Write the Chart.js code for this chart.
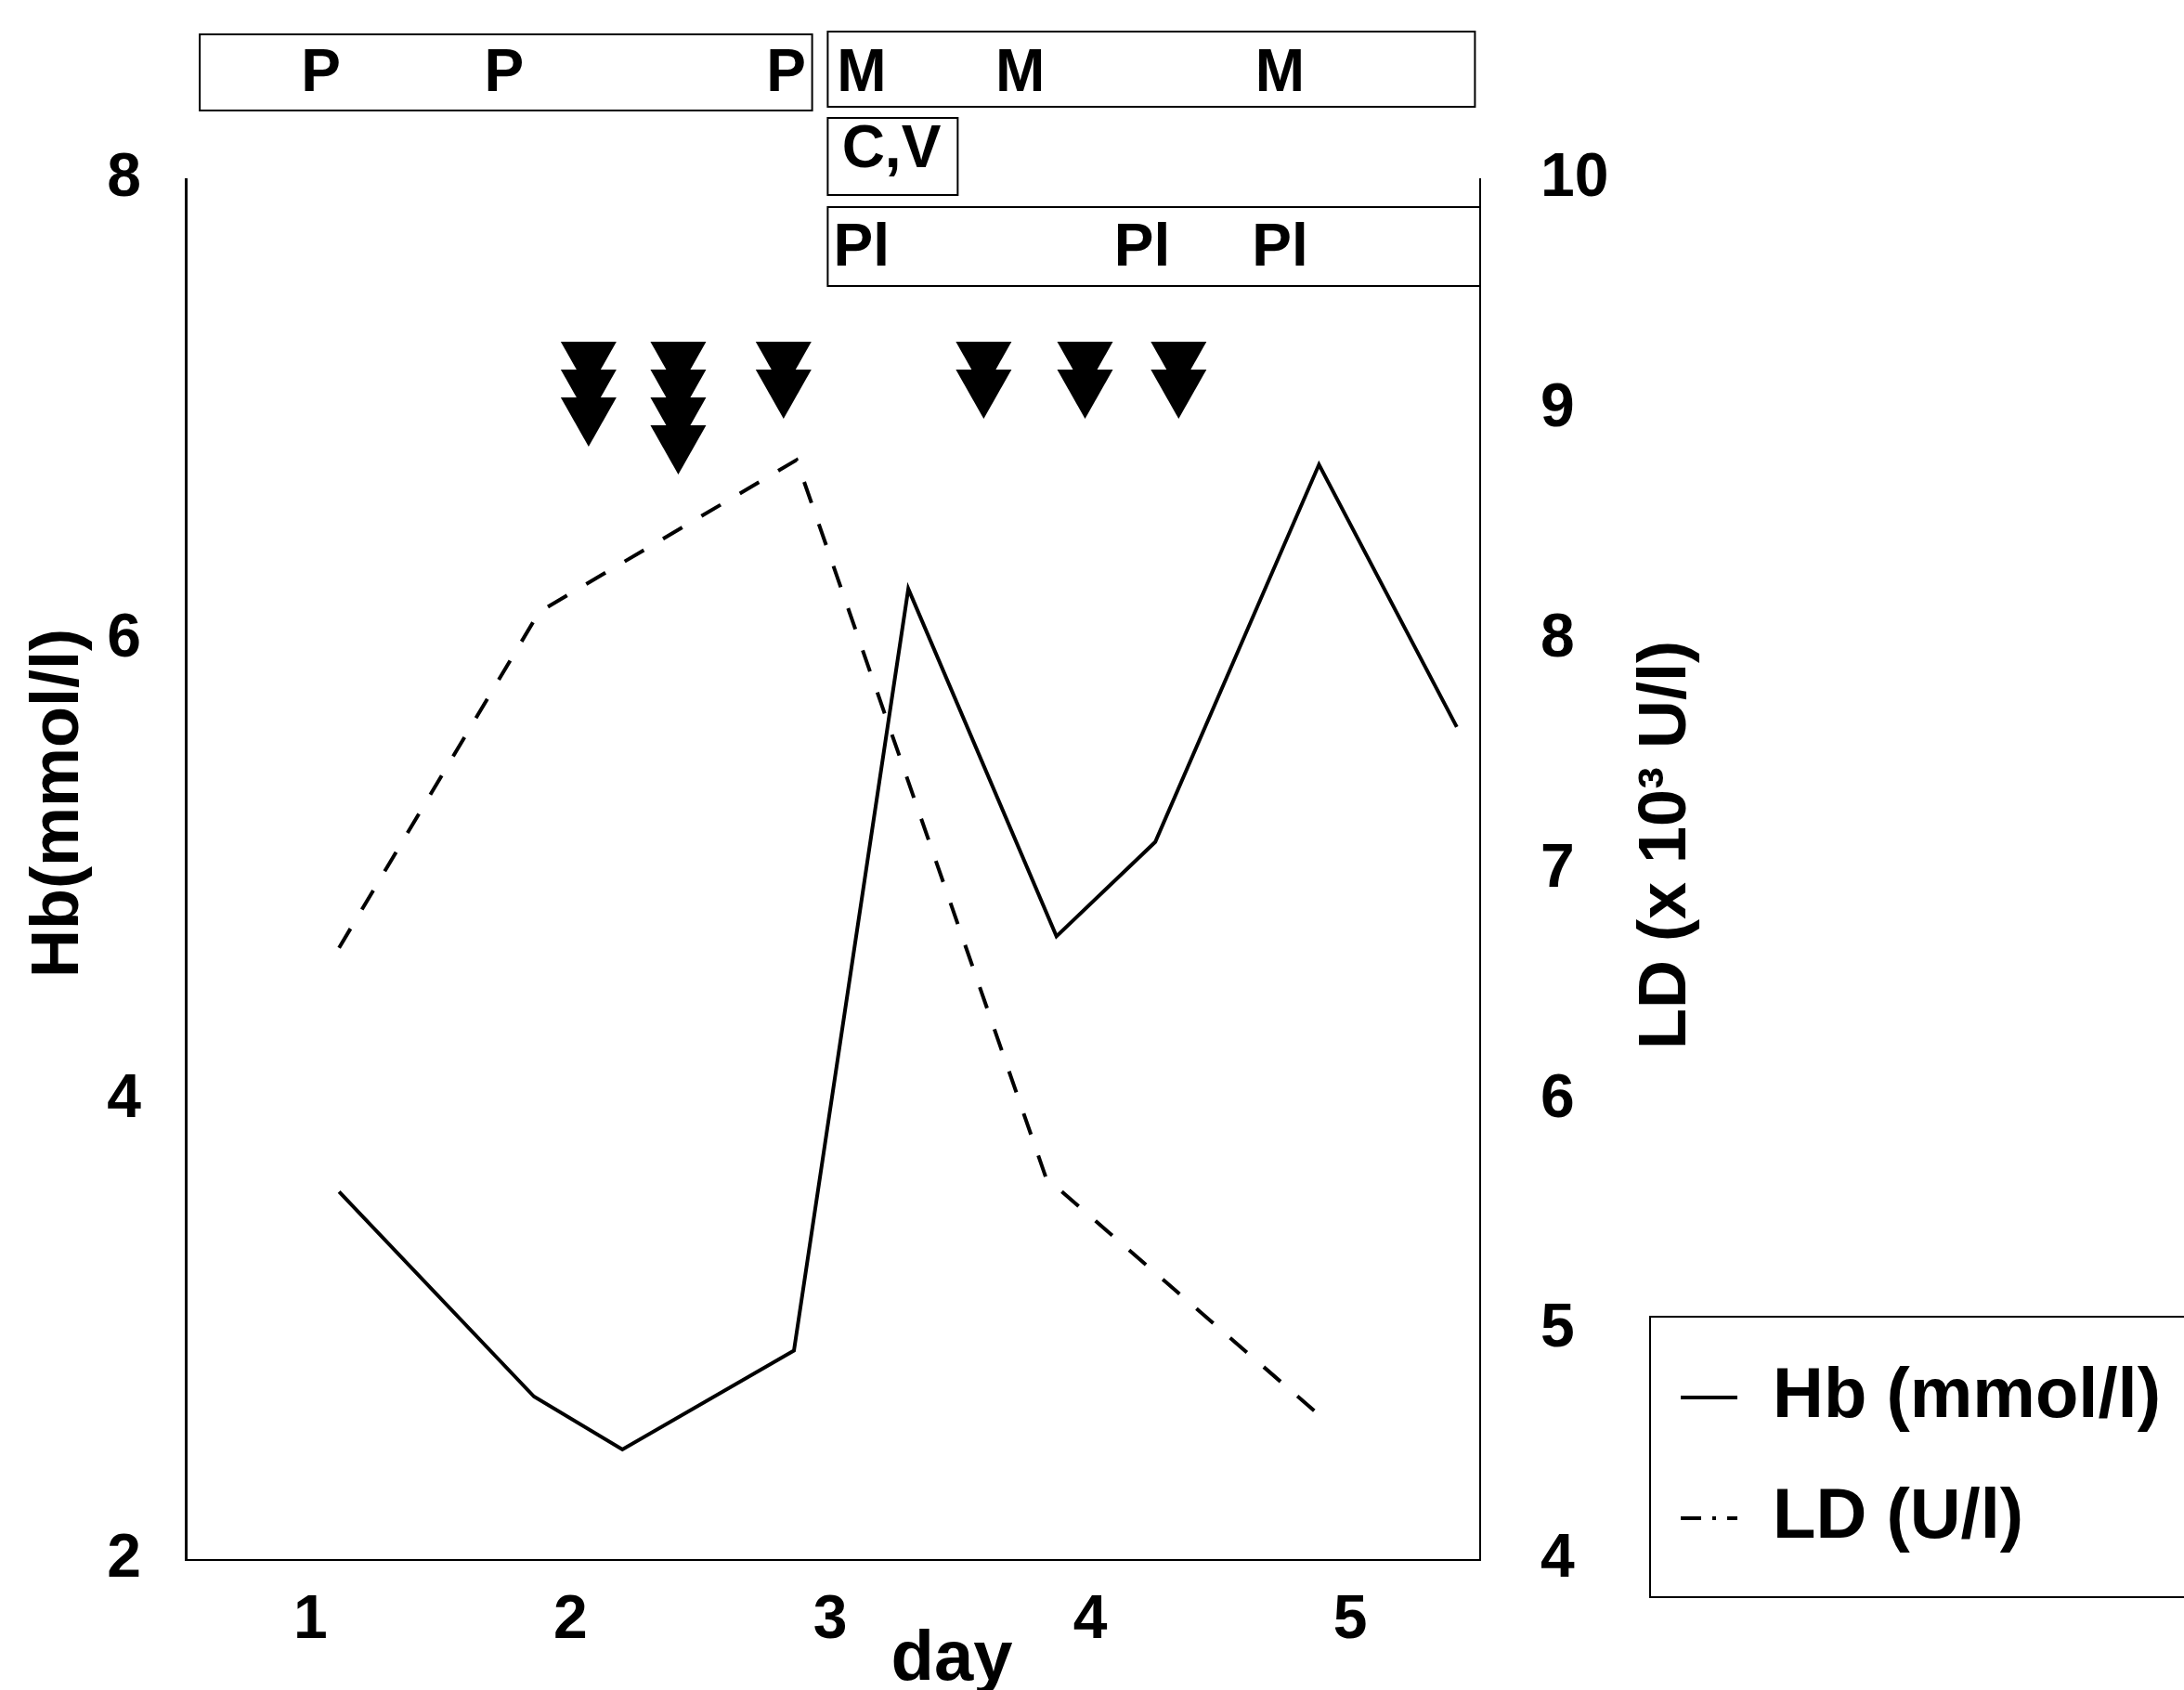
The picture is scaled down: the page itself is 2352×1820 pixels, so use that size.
<!DOCTYPE html>
<html>
<head>
<meta charset="utf-8">
<style>
  html, body { margin: 0; padding: 0; background: #ffffff; }
  #wrap { width: 2352px; height: 1820px; }
</style>
<script src="https://cdn.jsdelivr.net/npm/chart.js@4.4.1/dist/chart.umd.min.js"></script>
</head>
<body>
<div id="wrap"><canvas id="c" width="2352" height="1820"></canvas></div>
<script>
// ---------- data ----------
const hbDays   = [1.11, 1.86, 2.20, 2.86, 3.30, 3.87, 4.25, 4.88, 5.41];
const hbValues = [3.60, 2.71, 2.48, 2.91, 6.22, 4.71, 5.12, 6.76, 5.62];   // mmol/l
const ldDays   = [1.11, 1.88, 2.87, 3.83, 4.87];
const ldValues = [6.66, 8.12, 8.78, 5.66, 4.64];                           // x 10^3 U/l

const dayTicks = [1, 2, 3, 4, 5];
const hbTicks  = [2, 4, 6, 8];
const ldTicks  = [4, 5, 6, 7, 8, 9, 10];

// transfusions (arrows): day and number of units
const transfusionDays  = [2.07, 2.415, 2.82, 3.59, 3.98, 4.34];
const transfusionUnits = [3, 4, 2, 2, 2, 2];

// therapy annotations
const pDays  = [1.04, 1.745, 2.83];
const mDays  = [3.12, 3.73, 4.73];
const cvDays = [3.235];
const plDays = [3.12, 4.20, 4.73];
const pSpan  = [0.574, 2.93];
const mSpan  = [2.99, 5.48];
const cvSpan = [2.99, 3.49];
const plSpan = [2.99, 5.50];

const seriesLabels = ['Hb (mmol/l)', 'LD (U/l)'];

// ---------- styling ----------
const FONT = "'Liberation Sans', Arial, Helvetica, sans-serif";
Chart.defaults.font.family = FONT;
Chart.defaults.color = '#000';

const toPoints = (xs, ys) => xs.map((d, i) => ({ x: d, y: ys[i] }));
const setTicks = (arr) => (scale) => { scale.ticks = arr.map(v => ({ value: v })); };

const legendMover = {
  id: 'legendMover',
  afterLayout(chart) {
    const lg = chart.legend;
    if (!lg) return;
    const w = lg.width, h = lg.height;
    lg.left = 1756; lg.top = 1413;
    lg.right = lg.left + w; lg.bottom = lg.top + h;
  }
};

const annotations = {
  id: 'annotations',
  afterDraw(chart) {
    const { ctx, chartArea: ca, scales: { x } } = chart;
    const px = d => x.getPixelForValue(d);
    ctx.save();
    ctx.strokeStyle = '#000';
    ctx.fillStyle = '#000';
    ctx.lineWidth = 2;

    const rect = (x0, y0, x1, y1) => { ctx.strokeRect(x0, y0, x1 - x0, y1 - y0); };
    // therapy boxes
    rect(px(pSpan[0]), 37, px(pSpan[1]), 119);
    rect(px(mSpan[0]), 34, px(mSpan[1]), 115);
    rect(px(cvSpan[0]), 127, px(cvSpan[1]), 210);
    ctx.beginPath();
    ctx.moveTo(px(plSpan[1]), 223);
    ctx.lineTo(px(plSpan[0]), 223);
    ctx.lineTo(px(plSpan[0]), 308);
    ctx.lineTo(px(plSpan[1]), 308);
    ctx.stroke();

    ctx.font = 'bold 64px ' + FONT;
    ctx.textAlign = 'center';
    ctx.textBaseline = 'middle';
    pDays.forEach(d => ctx.fillText('P', px(d), 80));
    mDays.forEach(d => ctx.fillText('M', px(d), 80));
    cvDays.forEach(d => ctx.fillText('C,V', px(d), 162));
    plDays.forEach(d => ctx.fillText('Pl', px(d), 268));

    // transfusion arrows
    transfusionDays.forEach((d, i) => {
      const cx = px(d);
      for (let k = 0; k < transfusionUnits[i]; k++) {
        const top = ca.top + 175 + k * 30;
        ctx.beginPath();
        ctx.moveTo(cx - 30, top);
        ctx.lineTo(cx + 30, top);
        ctx.lineTo(cx, top + 53);
        ctx.closePath();
        ctx.fill();
      }
    });

    // axis titles
    ctx.font = 'bold 72px ' + FONT;
    ctx.save();
    ctx.translate(64, 865);
    ctx.rotate(-Math.PI / 2);
    ctx.fillText('Hb(mmol/l)', 0, 0);
    ctx.restore();

    ctx.save();
    ctx.translate(1795, 910);
    ctx.rotate(-Math.PI / 2);
    ctx.fillText('LD (x 10\u00B3 U/l)', 0, 0);
    ctx.restore();

    ctx.font = 'bold 76px ' + FONT;
    ctx.textBaseline = 'alphabetic';
    ctx.fillText('day', 1025, 1809);

    // legend frame
    const lg = chart.legend;
    if (lg) ctx.strokeRect(lg.left + 21, lg.top + 5, 700, 302);
    ctx.restore();
  }
};

const tickFont = { size: 66, weight: 'bold' };

new Chart(document.getElementById('c'), {
  type: 'line',
  data: {
    datasets: [
      {
        label: seriesLabels[0],
        data: toPoints(hbDays, hbValues),
        yAxisID: 'y',
        borderColor: '#000',
        backgroundColor: '#000',
        borderWidth: 4,
        pointRadius: 0,
        tension: 0,
        fill: false
      },
      {
        label: seriesLabels[1],
        data: toPoints(ldDays, ldValues),
        yAxisID: 'y1',
        borderColor: '#000',
        backgroundColor: '#000',
        borderWidth: 4,
        borderDash: [24, 24],
        pointRadius: 0,
        tension: 0,
        fill: false
      }
    ]
  },
  options: {
    responsive: false,
    animation: false,
    events: [],
    layout: { padding: { left: 0, right: 0, top: 193, bottom: 0 } },
    plugins: {
      legend: {
        position: 'chartArea',
        align: 'start',
        labels: {
          usePointStyle: false,
          boxWidth: 61,
          boxHeight: 0,
          padding: 54,
          color: '#000',
          font: { size: 76, weight: 'bold' },
          generateLabels(chart) {
            const items = Chart.defaults.plugins.legend.labels.generateLabels(chart);
            items.forEach(it => {
              if (it.datasetIndex === 1) it.lineDash = [22, 12, 4, 12];
            });
            return items;
          }
        }
      },
      tooltip: { enabled: false }
    },
    scales: {
      x: {
        type: 'linear',
        position: 'bottom',
        min: 0.52,
        max: 5.5,
        afterBuildTicks: setTicks(dayTicks),
        afterFit: s => { s.height = 140; },
        grid: { display: false },
        border: { display: true, color: '#000', width: 2 },
        ticks: { padding: 18, font: tickFont, color: '#000', autoSkip: false, maxRotation: 0 }
      },
      y: {
        type: 'linear',
        position: 'left',
        min: 2,
        max: 8,
        afterBuildTicks: setTicks(hbTicks),
        afterFit: s => { s.width = 200; },
        grid: { display: false },
        border: { display: true, color: '#000', width: 3 },
        ticks: { padding: 40, font: tickFont, color: '#000' }
      },
      y1: {
        type: 'linear',
        position: 'right',
        min: 4,
        max: 10,
        afterBuildTicks: setTicks(ldTicks),
        afterFit: s => { s.width = 758; },
        grid: { display: false },
        border: { display: true, color: '#000', width: 2 },
        ticks: { padding: 57, font: tickFont, color: '#000' }
      }
    }
  },
  plugins: [legendMover, annotations]
});
</script>
</body>
</html>
